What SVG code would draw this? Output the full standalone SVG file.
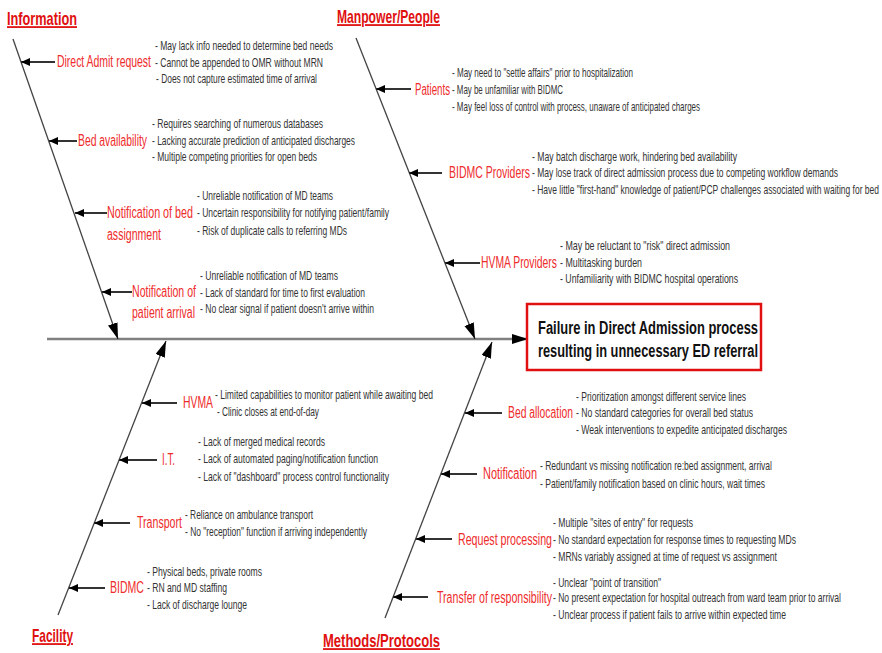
<svg xmlns="http://www.w3.org/2000/svg" width="882" height="653" viewBox="0 0 882 653">
<style>
.t{font-family:"Liberation Sans",Arial,sans-serif;font-weight:bold;font-size:18px;fill:#e01010;text-decoration:underline;}
.l{font-family:"Liberation Sans",Arial,sans-serif;font-size:16px;fill:#ee2c2c;}
.b{font-family:"Liberation Sans",Arial,sans-serif;font-size:12.5px;fill:#333;}
.e{font-family:"Liberation Sans",Arial,sans-serif;font-weight:bold;font-size:19px;fill:#111;}
.spine{stroke:#808080;stroke-width:2.5;fill:none;}
.bone{stroke:#444;stroke-width:1.3;fill:none;}
.br{stroke:#333;stroke-width:2;fill:none;}
</style>
<defs>
<marker id="ab" markerUnits="userSpaceOnUse" markerWidth="18" markerHeight="12" refX="16" refY="5" orient="auto"><path d="M0,0 L16,5 L0,10 z" fill="#000"/></marker>
<marker id="as" markerUnits="userSpaceOnUse" markerWidth="10" markerHeight="9" refX="9" refY="4" orient="auto"><path d="M0,0 L9,4 L0,8 z" fill="#000"/></marker>
</defs>
<rect width="882" height="653" fill="#fff"/>
<g id="connectors">
<line class="spine" x1="47" y1="339" x2="528" y2="339" marker-end="url(#ab)"/>
<line class="bone" x1="13" y1="39" x2="118" y2="339" marker-end="url(#ab)"/>
<line class="bone" x1="356" y1="38" x2="475" y2="339" marker-end="url(#ab)"/>
<line class="bone" x1="58" y1="615" x2="166" y2="341" marker-end="url(#ab)"/>
<line class="bone" x1="385" y1="618" x2="492" y2="342" marker-end="url(#ab)"/>
<line class="br" x1="55" y1="62" x2="21" y2="62" marker-end="url(#as)"/>
<line class="br" x1="77" y1="141" x2="49" y2="141" marker-end="url(#as)"/>
<line class="br" x1="107" y1="213" x2="75" y2="213" marker-end="url(#as)"/>
<line class="br" x1="132" y1="292" x2="102" y2="292" marker-end="url(#as)"/>
<line class="br" x1="411" y1="89" x2="376" y2="89" marker-end="url(#as)"/>
<line class="br" x1="442" y1="173" x2="409" y2="173" marker-end="url(#as)"/>
<line class="br" x1="480" y1="263" x2="445" y2="263" marker-end="url(#as)"/>
<line class="br" x1="177" y1="403" x2="142" y2="403" marker-end="url(#as)"/>
<line class="br" x1="157" y1="460" x2="119" y2="460" marker-end="url(#as)"/>
<line class="br" x1="130" y1="523" x2="94" y2="523" marker-end="url(#as)"/>
<line class="br" x1="105" y1="588" x2="69" y2="588" marker-end="url(#as)"/>
<line class="br" x1="502" y1="413" x2="465" y2="413" marker-end="url(#as)"/>
<line class="br" x1="477" y1="474" x2="441" y2="474" marker-end="url(#as)"/>
<line class="br" x1="452" y1="539" x2="416" y2="539" marker-end="url(#as)"/>
<line class="br" x1="428" y1="597" x2="393" y2="597" marker-end="url(#as)"/>
</g>
<g id="effect">
<rect x="527" y="304" width="234" height="66" fill="#fff" stroke="#e01010" stroke-width="2.5"/>
<text class="e" transform="translate(538,334) scale(0.67,1)" textLength="328.4" lengthAdjust="spacingAndGlyphs">Failure in Direct Admission process</text>
<text class="e" transform="translate(538,357) scale(0.67,1)" textLength="328.4" lengthAdjust="spacingAndGlyphs">resulting in unnecessary ED referral</text>
</g>
<g id="cat-information"><text class="t" transform="translate(7,25) scale(0.7,1)" textLength="100" lengthAdjust="spacingAndGlyphs">Information</text></g>
<g id="cat-manpower"><text class="t" transform="translate(337,23) scale(0.7,1)" textLength="147.1" lengthAdjust="spacingAndGlyphs">Manpower/People</text></g>
<g id="cat-facility"><text class="t" transform="translate(32,642) scale(0.7,1)" textLength="58.6" lengthAdjust="spacingAndGlyphs">Facility</text></g>
<g id="cat-methods"><text class="t" transform="translate(323,647) scale(0.7,1)" textLength="167.1" lengthAdjust="spacingAndGlyphs">Methods/Protocols</text></g>

<g id="direct-admit-request">
<text class="l" transform="translate(57,67) scale(0.62,1)" textLength="151.6" lengthAdjust="spacingAndGlyphs">Direct Admit request</text>
<text class="b" transform="translate(155,50) scale(0.7,1)" textLength="254.3" lengthAdjust="spacingAndGlyphs">- May lack info needed to determine bed needs</text>
<text class="b" transform="translate(155,67) scale(0.7,1)" textLength="240" lengthAdjust="spacingAndGlyphs">- Cannot be appended to OMR without MRN</text>
<text class="b" transform="translate(156,83) scale(0.7,1)" textLength="230" lengthAdjust="spacingAndGlyphs">- Does not capture estimated time of arrival</text>
</g>
<g id="bed-availability">
<text class="l" transform="translate(78,146) scale(0.62,1)" textLength="111.3" lengthAdjust="spacingAndGlyphs">Bed availability</text>
<text class="b" transform="translate(152,128) scale(0.7,1)" textLength="244.3" lengthAdjust="spacingAndGlyphs">- Requires searching of numerous databases</text>
<text class="b" transform="translate(152,145) scale(0.7,1)" textLength="290" lengthAdjust="spacingAndGlyphs">- Lacking accurate prediction of anticipated discharges</text>
<text class="b" transform="translate(152,161) scale(0.7,1)" textLength="235.7" lengthAdjust="spacingAndGlyphs">- Multiple competing priorities for open beds</text>
</g>
<g id="notification-bed-assignment">
<text class="l" transform="translate(107,218) scale(0.62,1)" textLength="138.7" lengthAdjust="spacingAndGlyphs">Notification of bed</text>
<text class="l" transform="translate(107,240) scale(0.62,1)" textLength="87.1" lengthAdjust="spacingAndGlyphs">assignment</text>
<text class="b" transform="translate(197,200) scale(0.7,1)" textLength="194.3" lengthAdjust="spacingAndGlyphs">- Unreliable notification of MD teams</text>
<text class="b" transform="translate(197,217) scale(0.7,1)" textLength="274.3" lengthAdjust="spacingAndGlyphs">- Uncertain responsibility for notifying patient/family</text>
<text class="b" transform="translate(197,235) scale(0.7,1)" textLength="214.3" lengthAdjust="spacingAndGlyphs">- Risk of duplicate calls to referring MDs</text>
</g>
<g id="notification-patient-arrival">
<text class="l" transform="translate(132,297) scale(0.62,1)" textLength="103.2" lengthAdjust="spacingAndGlyphs">Notification of</text>
<text class="l" transform="translate(132,318) scale(0.62,1)" textLength="101.6" lengthAdjust="spacingAndGlyphs">patient arrival</text>
<text class="b" transform="translate(200,280) scale(0.7,1)" textLength="197.1" lengthAdjust="spacingAndGlyphs">- Unreliable notification of MD teams</text>
<text class="b" transform="translate(200,297) scale(0.7,1)" textLength="235.7" lengthAdjust="spacingAndGlyphs">- Lack of standard for time to first evaluation</text>
<text class="b" transform="translate(200,313) scale(0.7,1)" textLength="248.6" lengthAdjust="spacingAndGlyphs">- No clear signal if patient doesn't arrive  within</text>
</g>

<g id="patients">
<text class="l" transform="translate(415,95) scale(0.62,1)" textLength="56.5" lengthAdjust="spacingAndGlyphs">Patients</text>
<text class="b" transform="translate(452,77) scale(0.7,1)" textLength="258.6" lengthAdjust="spacingAndGlyphs">- May need to "settle affairs" prior to hospitalization</text>
<text class="b" transform="translate(452,94) scale(0.7,1)" textLength="158.6" lengthAdjust="spacingAndGlyphs">- May be unfamiliar with BIDMC</text>
<text class="b" transform="translate(452,111) scale(0.7,1)" textLength="354.3" lengthAdjust="spacingAndGlyphs">- May feel loss of control with process, unaware of anticipated charges</text>
</g>
<g id="bidmc-providers">
<text class="l" transform="translate(449,178) scale(0.62,1)" textLength="130.6" lengthAdjust="spacingAndGlyphs">BIDMC Providers</text>
<text class="b" transform="translate(532,161) scale(0.7,1)" textLength="292.9" lengthAdjust="spacingAndGlyphs">- May batch discharge work, hindering bed availability</text>
<text class="b" transform="translate(532,177) scale(0.7,1)" textLength="437.1" lengthAdjust="spacingAndGlyphs">- May lose track of direct admission process due to competing workflow demands</text>
<text class="b" transform="translate(532,194) scale(0.64,1)" textLength="542.2" lengthAdjust="spacingAndGlyphs">- Have  little "first-hand" knowledge of patient/PCP challenges associated with waiting for bed</text>
</g>
<g id="hvma-providers">
<text class="l" transform="translate(481,268) scale(0.62,1)" textLength="122.6" lengthAdjust="spacingAndGlyphs">HVMA Providers</text>
<text class="b" transform="translate(560,250) scale(0.7,1)" textLength="242.9" lengthAdjust="spacingAndGlyphs">- May be reluctant to "risk" direct admission</text>
<text class="b" transform="translate(560,267) scale(0.7,1)" textLength="117.1" lengthAdjust="spacingAndGlyphs">- Multitasking burden</text>
<text class="b" transform="translate(560,283) scale(0.7,1)" textLength="254.3" lengthAdjust="spacingAndGlyphs">- Unfamiliarity with BIDMC hospital operations</text>
</g>

<g id="hvma">
<text class="l" transform="translate(183,408) scale(0.62,1)" textLength="48.4" lengthAdjust="spacingAndGlyphs">HVMA</text>
<text class="b" transform="translate(215,399) scale(0.7,1)" textLength="311.4" lengthAdjust="spacingAndGlyphs">- Limited capabilities to monitor patient while awaiting bed</text>
<text class="b" transform="translate(217,416) scale(0.7,1)" textLength="145.7" lengthAdjust="spacingAndGlyphs">- Clinic closes at end-of-day</text>
</g>
<g id="it">
<text class="l" transform="translate(162,465) scale(0.62,1)" textLength="21" lengthAdjust="spacingAndGlyphs">I.T.</text>
<text class="b" transform="translate(198,446) scale(0.7,1)" textLength="181.4" lengthAdjust="spacingAndGlyphs">- Lack of merged medical records</text>
<text class="b" transform="translate(198,463) scale(0.7,1)" textLength="257.1" lengthAdjust="spacingAndGlyphs">- Lack of automated paging/notification function</text>
<text class="b" transform="translate(198,481) scale(0.7,1)" textLength="272.9" lengthAdjust="spacingAndGlyphs">- Lack of "dashboard" process control functionality</text>
</g>
<g id="transport">
<text class="l" transform="translate(137,528) scale(0.62,1)" textLength="72.6" lengthAdjust="spacingAndGlyphs">Transport</text>
<text class="b" transform="translate(185,519) scale(0.7,1)" textLength="182.9" lengthAdjust="spacingAndGlyphs">- Reliance on ambulance transport</text>
<text class="b" transform="translate(185,536) scale(0.7,1)" textLength="260" lengthAdjust="spacingAndGlyphs">- No "reception" function if arriving  independently</text>
</g>
<g id="bidmc">
<text class="l" transform="translate(110,593) scale(0.62,1)" textLength="54.8" lengthAdjust="spacingAndGlyphs">BIDMC</text>
<text class="b" transform="translate(147,576) scale(0.7,1)" textLength="164.3" lengthAdjust="spacingAndGlyphs">- Physical beds, private rooms</text>
<text class="b" transform="translate(147,592) scale(0.7,1)" textLength="114.3" lengthAdjust="spacingAndGlyphs">- RN and MD staffing</text>
<text class="b" transform="translate(147,609) scale(0.7,1)" textLength="142.9" lengthAdjust="spacingAndGlyphs">- Lack of discharge lounge</text>
</g>

<g id="bed-allocation">
<text class="l" transform="translate(508,418) scale(0.62,1)" textLength="104.8" lengthAdjust="spacingAndGlyphs">Bed allocation</text>
<text class="b" transform="translate(576,401) scale(0.7,1)" textLength="242.9" lengthAdjust="spacingAndGlyphs">- Prioritization amongst different service lines</text>
<text class="b" transform="translate(576,417) scale(0.7,1)" textLength="252.9" lengthAdjust="spacingAndGlyphs">- No standard categories for overall  bed status</text>
<text class="b" transform="translate(576,434) scale(0.7,1)" textLength="301.4" lengthAdjust="spacingAndGlyphs">- Weak interventions to expedite anticipated discharges</text>
</g>
<g id="notification">
<text class="l" transform="translate(483,479) scale(0.62,1)" textLength="87.1" lengthAdjust="spacingAndGlyphs">Notification</text>
<text class="b" transform="translate(540,470) scale(0.7,1)" textLength="331.4" lengthAdjust="spacingAndGlyphs">- Redundant vs missing notification re:bed assignment, arrival</text>
<text class="b" transform="translate(540,488) scale(0.7,1)" textLength="321.4" lengthAdjust="spacingAndGlyphs">- Patient/family notification based on clinic hours, wait times</text>
</g>
<g id="request-processing">
<text class="l" transform="translate(458,545) scale(0.62,1)" textLength="151.6" lengthAdjust="spacingAndGlyphs">Request processing</text>
<text class="b" transform="translate(553,527) scale(0.7,1)" textLength="200" lengthAdjust="spacingAndGlyphs">- Multiple "sites of entry" for requests</text>
<text class="b" transform="translate(553,544) scale(0.7,1)" textLength="347.1" lengthAdjust="spacingAndGlyphs">- No standard expectation for response times to requesting MDs</text>
<text class="b" transform="translate(553,561) scale(0.7,1)" textLength="320" lengthAdjust="spacingAndGlyphs">- MRNs variably assigned at time of request vs  assignment</text>
</g>
<g id="transfer-responsibility">
<text class="l" transform="translate(437,603) scale(0.62,1)" textLength="185.5" lengthAdjust="spacingAndGlyphs">Transfer  of responsibility</text>
<text class="b" transform="translate(553,587) scale(0.7,1)" textLength="154.3" lengthAdjust="spacingAndGlyphs">- Unclear "point of transition"</text>
<text class="b" transform="translate(553,602) scale(0.7,1)" textLength="411.4" lengthAdjust="spacingAndGlyphs">- No present expectation for hospital outreach from ward  team prior to arrival</text>
<text class="b" transform="translate(553,619) scale(0.7,1)" textLength="332.9" lengthAdjust="spacingAndGlyphs">- Unclear process if patient fails to arrive  within expected time</text>
</g>
</svg>
